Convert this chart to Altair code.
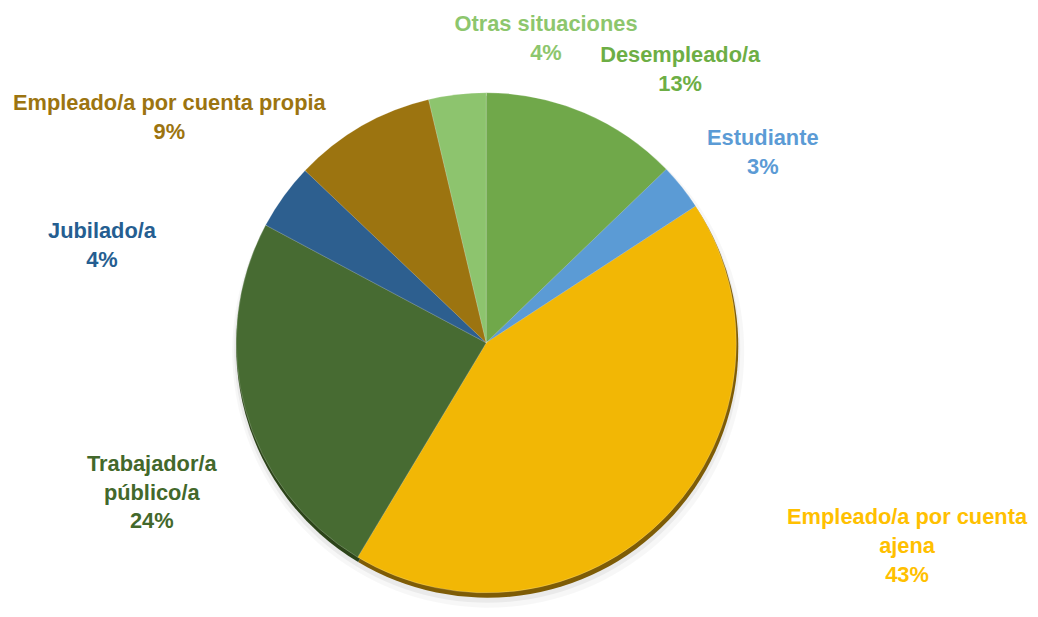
import altair as alt
import pandas as pd

# ---- data ----
categories = ["Desempleado/a", "Estudiante", "Empleado/a por cuenta ajena",
              "Trabajador/a público/a", "Jubilado/a",
              "Empleado/a por cuenta propia", "Otras situaciones"]
values = [12.8, 3.0, 42.8, 24.2, 4.3, 9.2, 3.7]
pct_labels = ["13%", "3%", "43%", "24%", "4%", "9%", "4%"]
label_lines = [["Desempleado/a"], ["Estudiante"], ["Empleado/a por cuenta", "ajena"],
               ["Trabajador/a", "público/a"], ["Jubilado/a"],
               ["Empleado/a por cuenta propia"], ["Otras situaciones"]]

# ---- styles ----
slice_colors = ["#70A84A", "#5B9BD5", "#F2B705", "#476B32", "#2D5F8F", "#9C7410", "#8DC46E"]
dark_colors = ["#4E7834", "#3E6E9C", "#7E5C06", "#2C4419", "#1C3B59", "#6A4F0A", "#5E8A47"]
text_colors = ["#6DAE45", "#5B9BD5", "#FFC000", "#43682B", "#255E91", "#9C7410", "#8DC66D"]
# label offsets (dx, dy) from the slice's mid-angle point at radius 300
label_offsets = [(78, -14), (44, -19), (208, -32), (-48, 42), (-144, 63), (-170, 19), (95, -23)]
FONT = "Liberation Sans, Arial, sans-serif"

cx, cy, R = 482, 335, 252

df = pd.DataFrame({
    "cat": categories,
    "value": values,
    "order": list(range(len(categories))),
    "label": ["\n".join(l + [p]) for l, p in zip(label_lines, pct_labels)],
})

base = alt.Chart(df).encode(
    theta=alt.Theta("value:Q", stack=True),
    order=alt.Order("order:Q"),
)

shadow_layers = [
    base.mark_arc(radius=R + 6, color="#000000", opacity=0.03).encode(
        x=alt.value(cx + 2), y=alt.value(cy + 9)),
    base.mark_arc(radius=R + 3, color="#000000", opacity=0.05).encode(
        x=alt.value(cx + 1), y=alt.value(cy + 7)),
]

dark = base.mark_arc(radius=R + 1).encode(
    x=alt.value(cx + 1), y=alt.value(cy + 4),
    color=alt.Color("cat:N", scale=alt.Scale(domain=categories, range=dark_colors), legend=None),
)

main = base.mark_arc(radius=R, stroke="#ffffff", strokeWidth=0.6, strokeOpacity=0.35).encode(
    x=alt.value(cx), y=alt.value(cy),
    color=alt.Color("cat:N", scale=alt.Scale(domain=categories, range=slice_colors), legend=None),
)

text_layers = []
for i, c in enumerate(categories):
    dx, dy = label_offsets[i]
    t = base.transform_calculate(
        t=f"datum.cat === {c!r} ? datum.label : ''"
    ).mark_text(
        radius=300, dx=dx, dy=dy, font=FONT, fontSize=22, fontWeight="bold",
        lineHeight=29, lineBreak="\n", align="center", baseline="middle",
        color=text_colors[i],
    ).encode(
        x=alt.value(cx), y=alt.value(cy),
        text=alt.Text("t:N"),
    )
    text_layers.append(t)

chart = alt.layer(*shadow_layers, dark, main, *text_layers).resolve_scale(
    color="independent"
).properties(
    width=1030, height=609, padding=0, autosize=alt.AutoSizeParams(type="none")
).configure_view(stroke=None)

chart.save("out.html", embed_options={"renderer": "svg", "actions": False})
